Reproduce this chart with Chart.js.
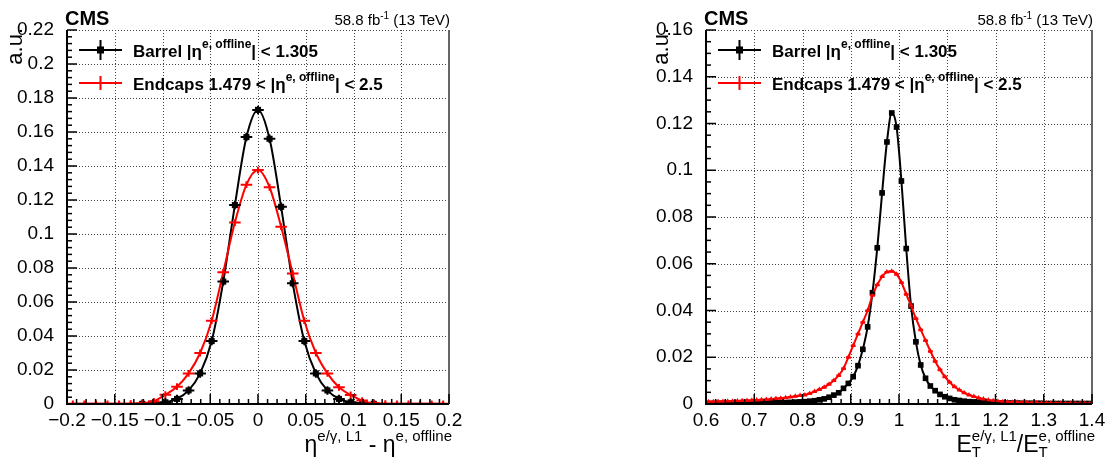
<!DOCTYPE html>
<html>
<head>
<meta charset="utf-8">
<script src="https://cdn.jsdelivr.net/npm/chart.js@4"></script>
<style>
  body { margin: 0; background: #fff; }
  #wrap { display: flex; width: 1110px; height: 464px; }
  canvas { display: block; }
</style>
</head>
<body>
<div id="wrap">
  <canvas id="etaChart" width="555" height="464"></canvas>
  <canvas id="etChart" width="555" height="464"></canvas>
</div>
<script>
// ---- left panel: eta(L1) - eta(offline), 33 bins in [-0.2, 0.2]
const etaBins = [-0.1939, -0.1818, -0.1697, -0.1576, -0.1455, -0.1333, -0.1212, -0.1091, -0.0970, -0.0848, -0.0727,
    -0.0606, -0.0485, -0.0364, -0.0242, -0.0121, 0, 0.0121, 0.0242, 0.0364, 0.0485, 0.0606,
    0.0727, 0.0848, 0.0970, 0.1091, 0.1212, 0.1333, 0.1455, 0.1576, 0.1697, 0.1818, 0.1939];
const etaBarrel = [0, 0, 0, 0, 0, 0, 0.0001, 0.0003, 0.001, 0.003, 0.008,
    0.018, 0.037, 0.072, 0.117, 0.157, 0.173, 0.156, 0.116, 0.071, 0.037, 0.018,
    0.008, 0.003, 0.001, 0.0003, 0.0001, 0, 0, 0, 0, 0, 0];
const etaEndcap = [0.0001, 0.0001, 0.0001, 0.0001, 0.0001, 0.0002, 0.0004, 0.0016, 0.0055, 0.0102, 0.018,
    0.030, 0.049, 0.0775, 0.1067, 0.129, 0.1376, 0.1275, 0.1043, 0.0767, 0.049, 0.030,
    0.018, 0.0098, 0.0053, 0.002, 0.0004, 0.0002, 0.0001, 0.0001, 0.0001, 0.0001, 0.0001];
const etaHalfBin = 0.00606;
const etaErrBarrel = 0.0025;
const etaErrEndcap = 0.002;
const etaXTicks = [-0.2, -0.15, -0.1, -0.05, 0, 0.05, 0.1, 0.15, 0.2];
const etaYTicks = [0, 0.02, 0.04, 0.06, 0.08, 0.1, 0.12, 0.14, 0.16, 0.18, 0.2, 0.22];

// ---- right panel: ET(L1) / ET(offline), 80 bins in [0.6, 1.4]
const etBins = [0.605, 0.615, 0.625, 0.635, 0.645, 0.655, 0.665, 0.675, 0.685, 0.695,
    0.705, 0.715, 0.725, 0.735, 0.745, 0.755, 0.765, 0.775, 0.785, 0.795,
    0.805, 0.815, 0.825, 0.835, 0.845, 0.855, 0.865, 0.875, 0.885, 0.895,
    0.905, 0.915, 0.925, 0.935, 0.945, 0.955, 0.965, 0.975, 0.985, 0.995,
    1.005, 1.015, 1.025, 1.035, 1.045, 1.055, 1.065, 1.075, 1.085, 1.095,
    1.105, 1.115, 1.125, 1.135, 1.145, 1.155, 1.165, 1.175, 1.185, 1.195,
    1.205, 1.215, 1.225, 1.235, 1.245, 1.255, 1.265, 1.275, 1.285, 1.295,
    1.305, 1.315, 1.325, 1.335, 1.345, 1.355, 1.365, 1.375, 1.385, 1.395];
const etBarrel = [0.0002, 0.0002, 0.0002, 0.0002, 0.0003, 0.0003, 0.0003, 0.0003, 0.0003, 0.0004,
    0.0004, 0.0004, 0.0005, 0.0005, 0.0005, 0.0006, 0.0006, 0.0007, 0.0008, 0.0009,
    0.001, 0.0012, 0.0014, 0.0018, 0.0022, 0.0029, 0.0038, 0.0048, 0.0067, 0.0088,
    0.0117, 0.0164, 0.0234, 0.033, 0.0476, 0.0668, 0.0903, 0.1121, 0.1245, 0.1185,
    0.0954, 0.0665, 0.0419, 0.0266, 0.0167, 0.011, 0.0077, 0.0057, 0.0041, 0.0031,
    0.0024, 0.0018, 0.0015, 0.0012, 0.001, 0.0009, 0.0008, 0.0007, 0.0006, 0.0006,
    0.0005, 0.0005, 0.0004, 0.0004, 0.0004, 0.0003, 0.0003, 0.0003, 0.0003, 0.0003,
    0.0002, 0.0002, 0.0002, 0.0002, 0.0002, 0.0002, 0.0002, 0.0002, 0.0002, 0.0002];
const etEndcap = [0.001, 0.001, 0.0011, 0.0011, 0.0012, 0.0012, 0.0013, 0.0014, 0.0015, 0.0016,
    0.0017, 0.0018, 0.0019, 0.0021, 0.0023, 0.0025, 0.0027, 0.003, 0.0033, 0.0036,
    0.0039, 0.0045, 0.0053, 0.0062, 0.0072, 0.0085, 0.0101, 0.0122, 0.0152, 0.020,
    0.025, 0.030, 0.035, 0.040, 0.0465, 0.051, 0.0545, 0.0565, 0.0568, 0.0555,
    0.052, 0.047, 0.042, 0.0366, 0.0318, 0.0272, 0.0226, 0.0183, 0.0147, 0.0117,
    0.0093, 0.0074, 0.006, 0.0048, 0.0039, 0.0032, 0.0026, 0.0021, 0.0017, 0.0014,
    0.0012, 0.001, 0.0009, 0.0008, 0.0007, 0.0006, 0.0006, 0.0005, 0.0005, 0.0004,
    0.0004, 0.0004, 0.0003, 0.0003, 0.0003, 0.0003, 0.0003, 0.0002, 0.0002, 0.0002];
const etHalfBin = 0.005;
const etXTicks = [0.6, 0.7, 0.8, 0.9, 1, 1.1, 1.2, 1.3, 1.4];
const etYTicks = [0, 0.02, 0.04, 0.06, 0.08, 0.1, 0.12, 0.14, 0.16];

const FONT = '"Liberation Sans", Arial, Helvetica, sans-serif';
const RED = '#ff0000';

function fmt(v) {
    const s = String(+v.toFixed(4));
    return s.startsWith('-') ? '\u2212' + s.slice(1) : s;
}

// draw text made of pieces with super/subscripts
function drawRich(ctx, parts, x, y, align) {
    const widths = parts.map(p => {
        ctx.font = `${p.bold ? 'bold ' : ''}${p.size}px ${FONT}`;
        if (p.sup !== undefined || p.sub !== undefined) {
            return Math.max(ctx.measureText(p.sup || '').width, ctx.measureText(p.sub || '').width);
        }
        return ctx.measureText(p.t).width;
    });
    const total = widths.reduce((a, b) => a + b, 0);
    let cx = align === 'right' ? x - total : x;
    ctx.textAlign = 'left';
    parts.forEach((p, i) => {
        ctx.font = `${p.bold ? 'bold ' : ''}${p.size}px ${FONT}`;
        if (p.sup !== undefined || p.sub !== undefined) {
            if (p.sup) ctx.fillText(p.sup, cx, y + (p.supDy || -9));
            if (p.sub) ctx.fillText(p.sub, cx, y + (p.subDy || 5));
        } else {
            ctx.fillText(p.t, cx, y + (p.dy || 0));
        }
        cx += widths[i];
    });
}

function makePanel(id, o) {
    const xVal = (bins, vals) => bins.map((b, i) => ({ x: b, y: vals[i] }));

    const histPlugin = {
        id: 'histDeco',
        beforeDatasetsDraw(chart) {
            // dotted grid lines at major ticks
            const ctx = chart.ctx, a = chart.chartArea;
            const xs = chart.scales.x, ys = chart.scales.y;
            ctx.save();
            ctx.strokeStyle = '#444';
            ctx.lineWidth = 1;
            ctx.setLineDash([1, 2]);
            o.xTicks.forEach(t => {
                const px = Math.round(xs.getPixelForValue(t)) + 0.5;
                if (px < a.left + 2 || px > a.right - 2) return;
                ctx.beginPath(); ctx.moveTo(px, a.top); ctx.lineTo(px, a.bottom); ctx.stroke();
            });
            o.yTicks.forEach(t => {
                const py = Math.round(ys.getPixelForValue(t)) + 0.5;
                if (py > a.bottom - 2) return;
                ctx.beginPath(); ctx.moveTo(a.left, py); ctx.lineTo(a.right, py); ctx.stroke();
            });
            ctx.restore();
        },
        afterDatasetsDraw(chart) {
            const ctx = chart.ctx;
            const xs = chart.scales.x, ys = chart.scales.y;
            ctx.save();
            ctx.lineWidth = 2;
            o.series.forEach(s => {
                ctx.strokeStyle = s.color;
                s.bins.forEach((b, i) => {
                    const v = s.vals[i];
                    if (v <= 0) return;
                    const px = xs.getPixelForValue(b), py = ys.getPixelForValue(v);
                    ctx.beginPath();
                    ctx.moveTo(xs.getPixelForValue(b - o.halfBin), py);
                    ctx.lineTo(xs.getPixelForValue(b + o.halfBin), py);
                    if (s.err) {
                        ctx.moveTo(px, ys.getPixelForValue(v + s.err));
                        ctx.lineTo(px, Math.min(ys.getPixelForValue(v - s.err), chart.chartArea.bottom));
                    }
                    ctx.stroke();
                });
            });
            ctx.restore();
        },
        afterDraw(chart) {
            const ctx = chart.ctx, a = chart.chartArea;
            const xs = chart.scales.x, ys = chart.scales.y;
            ctx.save();
            // axes + right frame
            ctx.strokeStyle = '#000';
            ctx.lineWidth = 2;
            ctx.beginPath();
            ctx.moveTo(a.left, a.top); ctx.lineTo(a.left, a.bottom); ctx.lineTo(a.right, a.bottom);
            ctx.stroke();
            ctx.strokeStyle = '#666';
            ctx.beginPath(); ctx.moveTo(a.right, a.top); ctx.lineTo(a.right, a.bottom); ctx.stroke();
            // ticks
            ctx.strokeStyle = '#000';
            ctx.lineWidth = 1.5;
            const xStep = o.xTicks[1] - o.xTicks[0], yStep = o.yTicks[1] - o.yTicks[0];
            for (let k = 0; k <= (o.xTicks.length - 1) * o.xMinor; k++) {
                const px = xs.getPixelForValue(o.xTicks[0] + k * xStep / o.xMinor);
                const len = k % o.xMinor === 0 ? 10 : 5;
                ctx.beginPath(); ctx.moveTo(px, a.bottom); ctx.lineTo(px, a.bottom - len); ctx.stroke();
            }
            for (let k = 0; k <= (o.yTicks.length - 1) * o.yMinor; k++) {
                const py = ys.getPixelForValue(o.yTicks[0] + k * yStep / o.yMinor);
                const len = k % o.yMinor === 0 ? 10 : 5;
                ctx.beginPath(); ctx.moveTo(a.left, py); ctx.lineTo(a.left + len, py); ctx.stroke();
            }

            ctx.fillStyle = '#000';
            ctx.textBaseline = 'alphabetic';
            // CMS label and luminosity
            ctx.font = `bold 20px ${FONT}`;
            ctx.textAlign = 'left';
            ctx.fillText('CMS', a.left - 2, 25);
            drawRich(ctx, [
                { t: '58.8 fb', size: 15 },
                { t: '-1', size: 10, dy: -6 },
                { t: ' (13 TeV)', size: 15 }
            ], a.right + 1, 25, 'right');

            // y title
            ctx.save();
            ctx.translate(o.yTitleX, a.top - 2);
            ctx.rotate(-Math.PI / 2);
            ctx.font = `22px ${FONT}`;
            ctx.textAlign = 'right';
            ctx.fillText('a.u.', 0, 0);
            ctx.restore();

            // x title
            drawRich(ctx, o.xTitle, a.right + 3, 452, 'right');

            // legend
            const lx0 = a.left + 12, lx1 = a.left + 55;
            o.legend.forEach((row, i) => {
                const ly = 50 + i * 33;
                const mid = (lx0 + lx1) / 2;
                ctx.strokeStyle = row.color;
                ctx.fillStyle = row.color;
                ctx.lineWidth = 2;
                ctx.beginPath();
                ctx.moveTo(lx0, ly); ctx.lineTo(lx1, ly);
                ctx.moveTo(mid, ly - row.bar); ctx.lineTo(mid, ly + row.bar);
                ctx.stroke();
                if (row.square) ctx.fillRect(mid - 3.5, ly - 3.5, 7, 7);
                ctx.fillStyle = '#000';
                drawRich(ctx, row.parts, lx1 + 11, ly + 7, 'left');
            });
            ctx.restore();
        }
    };

    // endcap first so it is drawn on top, as in the original
    const datasets = o.series.slice().reverse().map(s => ({
        label: s.name,
        data: xVal(s.bins, s.vals),
        borderColor: s.color,
        backgroundColor: s.color,
        borderWidth: 2,
        showLine: true,
        cubicInterpolationMode: 'monotone',
        pointStyle: s.marker,
        pointRadius: ctx => {
            const v = ctx.raw ? ctx.raw.y : 0;
            if (s.markerMax !== undefined && v > s.markerMax) return 0;
            return v > 0 ? s.radius : 0;
        },
        pointBorderWidth: 0,
        pointHoverRadius: 0
    }));

    return new Chart(document.getElementById(id), {
        type: 'scatter',
        data: { datasets },
        options: {
            responsive: false,
            animation: false,
            devicePixelRatio: 1,
            layout: { padding: { top: 30, right: o.padRight, left: 0, bottom: 0 } },
            plugins: { legend: { display: false }, tooltip: { enabled: false } },
            scales: {
                x: {
                    type: 'linear',
                    min: o.xTicks[0],
                    max: o.xTicks[o.xTicks.length - 1],
                    afterFit: sc => { sc.height = 60; },
                    afterBuildTicks: sc => { sc.ticks = o.xTicks.map(v => ({ value: v })); },
                    grid: { display: false },
                    border: { display: false },
                    ticks: {
                        callback: v => fmt(v),
                        color: '#000',
                        font: { family: FONT, size: 19 },
                        padding: -3,
                        maxRotation: 0,
                        autoSkip: false
                    }
                },
                y: {
                    type: 'linear',
                    min: 0,
                    max: o.yTicks[o.yTicks.length - 1],
                    afterFit: sc => { sc.width = o.yWidth; },
                    afterBuildTicks: sc => { sc.ticks = o.yTicks.map(v => ({ value: v })); },
                    grid: { display: false },
                    border: { display: false },
                    ticks: {
                        callback: v => fmt(v),
                        color: '#000',
                        font: { family: FONT, size: 19 },
                        padding: 5
                    }
                }
            }
        },
        plugins: [histPlugin]
    });
}

const legendRows = [
    {
        color: '#000', bar: 10, square: true, parts: [
            { t: 'Barrel |\u03b7', size: 17, bold: true },
            { t: 'e, offline', size: 12, bold: true, dy: -9 },
            { t: '| < 1.305', size: 17, bold: true }
        ]
    },
    {
        color: RED, bar: 7, square: false, parts: [
            { t: 'Endcaps 1.479 < |\u03b7', size: 17, bold: true },
            { t: 'e, offline', size: 12, bold: true, dy: -9 },
            { t: '| < 2.5', size: 17, bold: true }
        ]
    }
];

makePanel('etaChart', {
    xTicks: etaXTicks, yTicks: etaYTicks, xMinor: 5, yMinor: 5,
    halfBin: etaHalfBin, padRight: 106, yWidth: 67, yTitleX: 22,
    series: [
        { name: 'Barrel', bins: etaBins, vals: etaBarrel, color: '#000', marker: 'rect', radius: 4.3, err: etaErrBarrel },
        { name: 'Endcaps', bins: etaBins, vals: etaEndcap, color: RED, marker: 'triangle', radius: 3.2, markerMax: 0.0015, err: etaErrEndcap }
    ],
    xTitle: [
        { t: '\u03b7', size: 23 },
        { t: 'e/\u03b3, L1', size: 15, dy: -11 },
        { t: ' - \u03b7', size: 23 },
        { t: 'e, offline', size: 15, dy: -11 }
    ],
    legend: legendRows
});

makePanel('etChart', {
    xTicks: etXTicks, yTicks: etYTicks, xMinor: 5, yMinor: 4,
    halfBin: etHalfBin, padRight: 18, yWidth: 151, yTitleX: 113,
    series: [
        { name: 'Barrel', bins: etBins, vals: etBarrel, color: '#000', marker: 'rect', radius: 4, err: 0 },
        { name: 'Endcaps', bins: etBins, vals: etEndcap, color: RED, marker: 'triangle', radius: 3, err: 0 }
    ],
    xTitle: [
        { t: 'E', size: 23 },
        { sub: 'T', sup: 'e/\u03b3, L1', size: 15, supDy: -11, subDy: 5 },
        { t: '/E', size: 23 },
        { sub: 'T', sup: 'e, offline', size: 15, supDy: -11, subDy: 5 }
    ],
    legend: legendRows
});
</script>
</body>
</html>
